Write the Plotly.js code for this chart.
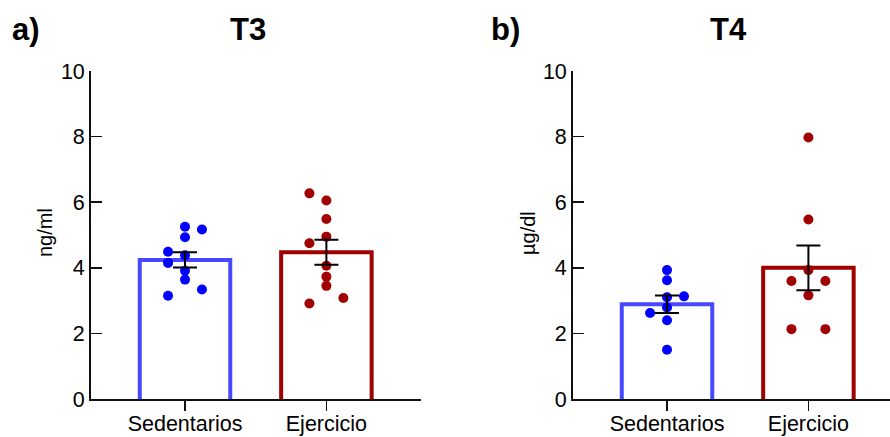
<!DOCTYPE html>
<html>
<head>
<meta charset="utf-8">
<script src="https://cdn.plot.ly/plotly-3.0.1.min.js"></script>
<style>html,body{margin:0;padding:0;background:#fff;}#chart{width:890px;height:437px;}</style>
</head>
<body>
<div id="chart"></div>
<script>
// ---- data ----
const categories = ['Sedentarios', 'Ejercicio'];
const t3Sedentarios = [5.25, 5.17, 4.93, 4.49, 4.38, 4.15, 3.91, 3.64, 3.34, 3.15];
const t3Ejercicio   = [6.27, 6.05, 5.49, 4.95, 4.75, 4.06, 3.73, 3.45, 3.08, 2.91];
const t4Sedentarios = [3.93, 3.62, 3.13, 3.10, 2.79, 2.62, 2.40, 1.50];
const t4Ejercicio   = [7.97, 5.47, 3.93, 3.60, 3.60, 3.16, 2.13, 2.13];
const yTicks = [0, 2, 4, 6, 8, 10];

// ---- point placement columns (layout only) ----
const colT3Sed = [0, 1, 0, -1, 0, -1, 0, 0, 1, -1];
const colT3Ej  = [-1, 0, 0, 0, -1, 0, 0, 0, 1, -1];
const colT4Sed = [0, 0, 1, 0, 0, -1, 0, 0];
const colT4Ej  = [0, 0, 0, -1, 1, 0, -1, 1];

const BLUE_BAR = '#4848ff', RED_BAR = '#a00000';
const BLUE_PT = '#0000ff', RED_PT = '#a00000';
const FONT = 'Liberation Sans, Arial, sans-serif';
const JIT = 0.12, BASE = -0.07;

function mean(a){ return a.reduce((s,v)=>s+v,0)/a.length; }
function sem(a){ const m = mean(a); const v = a.reduce((s,x)=>s+(x-m)*(x-m),0)/(a.length-1); return Math.sqrt(v/a.length); }

function panel(groups, cols, xa, ya){
  const means = groups.map(mean), sems = groups.map(sem);
  const tr = [];
  tr.push({type:'bar', x:[0,1], y:means.map(m=>m-BASE), base:BASE, width:0.64, xaxis:xa, yaxis:ya,
    marker:{color:'rgba(255,255,255,0)', line:{color:[BLUE_BAR, RED_BAR], width:4}}, hoverinfo:'skip', showlegend:false});
  groups.forEach((g,i)=>{
    tr.push({type:'scatter', mode:'markers', x:g.map((v,k)=>i+cols[i][k]*JIT), y:g, xaxis:xa, yaxis:ya,
      marker:{color:i===0?BLUE_PT:RED_PT, size:10}, cliponaxis:false, showlegend:false});
  });
  tr.push({type:'scatter', mode:'markers', x:[0,1], y:means, xaxis:xa, yaxis:ya,
    marker:{color:'rgba(0,0,0,0)', size:1}, cliponaxis:false, showlegend:false,
    error_y:{type:'data', array:sems, visible:true, color:'#000', thickness:2, width:12}});
  return tr;
}

const data = [].concat(
  panel([t3Sedentarios, t3Ejercicio], [colT3Sed, colT3Ej], 'x', 'y'),
  panel([t4Sedentarios, t4Ejercicio], [colT4Sed, colT4Ej], 'x2', 'y2')
);

const yDom = [38/437, 366/437];
function xAxis(domain, range, anchor){
  return {domain:domain, range:range, anchor:anchor, tickvals:[0,1], ticktext:categories,
    showgrid:false, zeroline:false, showline:true, linecolor:'#111', linewidth:1.6,
    ticks:'outside', ticklen:10, tickwidth:1.6, tickcolor:'#111', ticklabelstandoff:-5,
    tickfont:{family:FONT, size:21.5, color:'#000'}, fixedrange:true};
}
function yAxis(anchor){
  return {domain:yDom, range:[0,10], anchor:anchor, tickvals:yTicks,
    showgrid:false, zeroline:false, showline:true, linecolor:'#111', linewidth:1.6,
    ticks:'inside', ticklen:11, tickwidth:1.6, tickcolor:'#111',
    tickfont:{family:FONT, size:21.5, color:'#000'}, fixedrange:true};
}
const PX = 141.4;
const layout = {
  width:890, height:437, margin:{l:0, r:0, t:0, b:0},
  paper_bgcolor:'#fff', plot_bgcolor:'rgba(0,0,0,0)', showlegend:false,
  xaxis: xAxis([90.7/890, 420.7/890], [-0.667, 1.667], 'y'),
  yaxis: yAxis('x'),
  xaxis2: xAxis([572.7/890, 1], [-0.667, -0.667 + 317.3/PX], 'y2'),
  yaxis2: yAxis('x2'),
  annotations: [
    {text:'a)', x:25.5/890, y:1-29/437, xref:'paper', yref:'paper', showarrow:false, xanchor:'center', yanchor:'middle', font:{family:FONT, size:31, weight:'bold', color:'#000'}},
    {text:'T3', x:248/890, y:1-29/437, xref:'paper', yref:'paper', showarrow:false, xanchor:'center', yanchor:'middle', font:{family:FONT, size:31, weight:'bold', color:'#000'}},
    {text:'b)', x:505.5/890, y:1-29/437, xref:'paper', yref:'paper', showarrow:false, xanchor:'center', yanchor:'middle', font:{family:FONT, size:31, weight:'bold', color:'#000'}},
    {text:'T4', x:728/890, y:1-29/437, xref:'paper', yref:'paper', showarrow:false, xanchor:'center', yanchor:'middle', font:{family:FONT, size:31, weight:'bold', color:'#000'}},
    {text:'ng/ml', x:45/890, y:1-233/437, xref:'paper', yref:'paper', showarrow:false, textangle:-90, xanchor:'center', yanchor:'middle', font:{family:FONT, size:20, color:'#000'}},
    {text:'µg/dl', x:528/890, y:1-233/437, xref:'paper', yref:'paper', showarrow:false, textangle:-90, xanchor:'center', yanchor:'middle', font:{family:FONT, size:20, color:'#000'}}
  ]
};
Plotly.newPlot('chart', data, layout, {staticPlot:true, displayModeBar:false});
</script>
</body>
</html>
